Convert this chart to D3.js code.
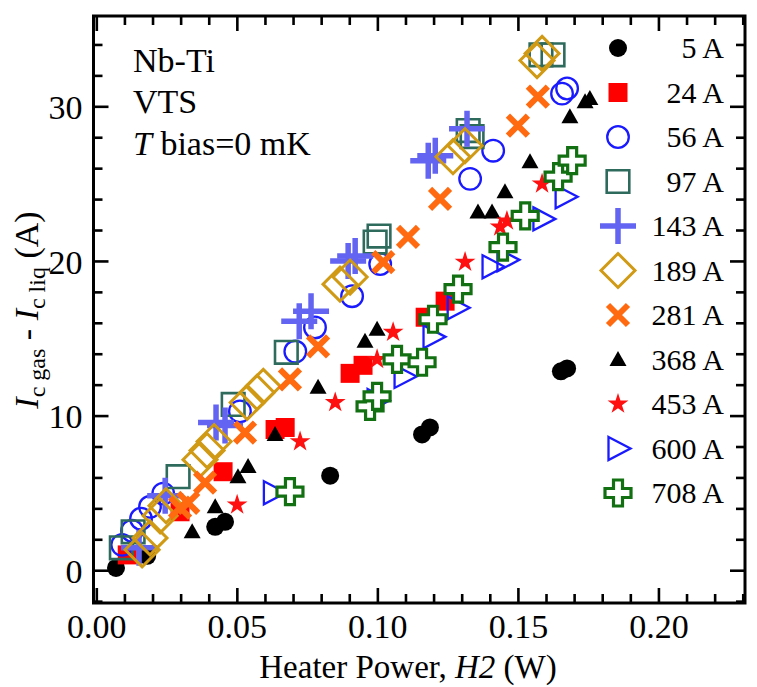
<!DOCTYPE html>
<html>
<head>
<meta charset="utf-8">
<script src="https://cdn.jsdelivr.net/npm/d3@7"></script>
<style>
  html, body { margin: 0; padding: 0; background: #fff; }
  svg { display: block; font-family: "Liberation Serif", "DejaVu Serif", serif; }
</style>
</head>
<body>
<svg id="chart" width="757" height="687"></svg>
<script>
// ---------------- DATA ----------------
const legendLabels = ["5 A","24 A","56 A","97 A","143 A","189 A","281 A","368 A","453 A","600 A","708 A"];

const s5A   = [[0.0070,0.15],[0.0181,0.93],[0.0423,2.81],[0.0458,3.13],[0.0832,6.11],[0.1159,8.78],[0.1187,9.23],[0.1653,12.86],[0.1675,13.05]];
const s24A  = [[0.0110,0.99],[0.0298,3.78],[0.0451,6.37],[0.0636,9.10],[0.0672,9.23],[0.0903,12.73],[0.0949,13.25],[0.1170,16.36],[0.1241,17.40]];
const s56A  = [[0.0092,1.64],[0.0127,2.55],[0.0159,3.33],[0.0191,4.10],[0.0238,4.95],[0.0511,10.27],[0.0708,14.14],[0.0778,15.70],[0.0910,17.72],[0.1010,19.80],[0.1330,25.31],[0.1412,27.13],[0.1657,30.82],[0.1675,31.15]];
const s97A  = [[0.0089,1.45],[0.0131,2.48],[0.0291,6.05],[0.0487,10.72],[0.0676,14.09],[0.0992,21.22],[0.1006,21.61],[0.1323,28.43],[0.1337,28.04],[0.1582,33.33],[0.1625,33.33]];
const s143A = [[0.0152,1.45],[0.0245,4.82],[0.0426,9.55],[0.0458,9.36],[0.0722,16.10],[0.0764,16.75],[0.0896,19.99],[0.0921,20.32],[0.1181,26.48],[0.1206,26.80],[0.1319,28.55]];
const s189A = [[0.0163,1.32],[0.0191,2.09],[0.0227,3.52],[0.0248,4.17],[0.0369,7.15],[0.0394,7.74],[0.0419,8.32],[0.0537,10.85],[0.0572,11.50],[0.0594,11.89],[0.0867,18.50],[0.0903,18.96],[0.1269,26.74],[0.1312,27.45],[0.1568,32.96],[0.1586,33.42]];
const s281A = [[0.0298,4.04],[0.0327,4.36],[0.0387,5.66],[0.0529,8.90],[0.0689,12.34],[0.0789,14.48],[0.1021,19.93],[0.1109,21.55],[0.1223,24.02],[0.1500,28.75],[0.1571,30.63]];
const s368A = [[0.0341,2.48],[0.0423,4.10],[0.0504,6.05],[0.0540,6.70],[0.0636,8.78],[0.0789,11.83],[0.0956,14.80],[0.0999,15.58],[0.1358,23.17],[0.1408,23.17],[0.1454,24.47],[0.1543,26.42],[0.1685,29.33],[0.1739,30.30],[0.1756,30.50]];
const s453A = [[0.0501,4.23],[0.0725,8.32],[0.0850,10.85],[0.0999,13.64],[0.1056,15.39],[0.1284,18.31],[0.1312,19.93],[0.1437,22.20],[0.1461,22.59],[0.1586,24.99]];
const s600A = [[0.0630,5.01],[0.0999,10.98],[0.1095,12.53],[0.1198,15.09],[0.1284,16.97],[0.1408,19.62],[0.1461,20.07],[0.1589,22.72],[0.1668,24.15]];
const s708A = [[0.0689,5.08],[0.0974,10.59],[0.0999,11.24],[0.1070,13.64],[0.1159,13.45],[0.1198,16.23],[0.1287,18.18],[0.1447,20.90],[0.1526,22.92],[0.1643,25.45],[0.1693,26.49]];

const seriesData = [s5A, s24A, s56A, s97A, s143A, s189A, s281A, s368A, s453A, s600A, s708A];

const xTickValues = [0.00, 0.05, 0.10, 0.15, 0.20];
const yTickValues = [0, 10, 20, 30];
const annotations = ["Nb-Ti", "VTS", "bias=0 mK"];

// ---------------- STYLE ----------------
const markerStyles = [
  {shape:"circle",   color:"#000000", fill:true},
  {shape:"square",   color:"#ff0000", fill:true},
  {shape:"ocircle",  color:"#1a1aff", fill:false},
  {shape:"osquare",  color:"#2f6b5c", fill:false},
  {shape:"plus",     color:"#6464f2", fill:false},
  {shape:"diamond",  color:"#d09a14", fill:false},
  {shape:"x",        color:"#ff6a10", fill:false},
  {shape:"triangle", color:"#000000", fill:true},
  {shape:"star",     color:"#ff1010", fill:true},
  {shape:"rtri",     color:"#1a1aff", fill:false},
  {shape:"cross",    color:"#127012", fill:false}
];

const svg = d3.select("#chart");
const L = 93.5, R = 745, T = 16, B = 603;

const x = d3.scaleLinear().domain([-0.001, 0.2308]).range([L, R]);
const y = d3.scaleLinear().domain([-2.12, 35.84]).range([B, T]);

function markerPath(shape) {
  switch (shape) {
    case "circle":  return d3.symbol().type(d3.symbolCircle).size(Math.PI*9*9)();
    case "ocircle": return d3.symbol().type(d3.symbolCircle).size(Math.PI*10.8*10.8)();
    case "square":  return "M-9.5,-9.5H9.5V9.5H-9.5Z";
    case "osquare": return "M-11.3,-11.3H11.3V11.3H-11.3Z";
    case "plus":    return "M-18,0H18M0,-18V18";
    case "diamond": return "M0,-17L17,0L0,17L-17,0Z";
    case "x":       return "M-10,-10L10,10M-10,10L10,-10";
    case "triangle":return "M0,-8.5L8.5,6.5L-8.5,6.5Z";
    case "star":    return d3.symbol().type(d3.symbolStar).size(135)();
    case "rtri":    return "M-9.5,-11.5L12.5,0L-9.5,11.5Z";
    case "cross":   return "M-4.5,-13H4.5V-4.5H13V4.5H4.5V13H-4.5V4.5H-13V-4.5H-4.5Z";
  }
}
function styleMarker(sel, st) {
  const sh = st.shape;
  if (st.fill) {
    sel.attr("fill", st.color).attr("stroke", "none");
  } else {
    let sw = 2.3;
    if (sh === "plus") sw = 5.5;
    if (sh === "x") sw = 6;
    if (sh === "diamond") sw = 3;
    if (sh === "cross") sw = 3.2;
    if (sh === "osquare") sw = 2.6;
    sel.attr("fill", sh === "cross" ? "#ffffff" : "none")
       .attr("stroke", st.color).attr("stroke-width", sw);
  }
}

// ---------------- DATA MARKS ----------------
const plot = svg.append("g");
seriesData.forEach((data, i) => {
  const st = markerStyles[i];
  const g = plot.append("g").attr("class", "series s" + i);
  g.selectAll("path").data(data).join("path")
    .attr("d", markerPath(st.shape))
    .attr("transform", d => `translate(${x(d[0])},${y(d[1])})`)
    .call(styleMarker, st);
});

// ---------------- AXES (ticks inward on all four sides) ----------------
const xMinor = d3.range(0, 0.2305, 0.01).map(v => +v.toFixed(2));
const yMinor = d3.range(-2, 35.1, 2);
const tickW = 2.6, majLen = 15, minLen = 9;

const axesG = svg.append("g");
const isMajorX = v => Math.round(v * 100) % 5 === 0;
const isMajorY = v => v % 10 === 0;

axesG.append("g").attr("transform", `translate(0,${B})`)
  .call(d3.axisBottom(x).tickValues(xMinor).tickSize(0).tickFormat(""))
  .call(g => g.select(".domain").remove())
  .call(g => g.selectAll(".tick line").attr("y2", d => -(isMajorX(d) ? majLen : minLen)).attr("stroke","#000").attr("stroke-width",tickW));
axesG.append("g").attr("transform", `translate(0,${T})`)
  .call(d3.axisTop(x).tickValues(xMinor).tickSize(0).tickFormat(""))
  .call(g => g.select(".domain").remove())
  .call(g => g.selectAll(".tick line").attr("y2", d => (isMajorX(d) ? majLen : minLen)).attr("stroke","#000").attr("stroke-width",tickW));
axesG.append("g").attr("transform", `translate(${L},0)`)
  .call(d3.axisLeft(y).tickValues(yMinor).tickSize(0).tickFormat(""))
  .call(g => g.select(".domain").remove())
  .call(g => g.selectAll(".tick line").attr("x2", d => (isMajorY(d) ? majLen : minLen)).attr("stroke","#000").attr("stroke-width",tickW));
axesG.append("g").attr("transform", `translate(${R},0)`)
  .call(d3.axisRight(y).tickValues(yMinor).tickSize(0).tickFormat(""))
  .call(g => g.select(".domain").remove())
  .call(g => g.selectAll(".tick line").attr("x2", d => -(isMajorY(d) ? majLen : minLen)).attr("stroke","#000").attr("stroke-width",tickW));

// tick labels
axesG.append("g").attr("transform", `translate(0,${B})`)
  .call(d3.axisBottom(x).tickValues(xTickValues).tickSize(0).tickPadding(0).tickFormat(d3.format(".2f")))
  .call(g => g.select(".domain").remove())
  .call(g => g.selectAll(".tick text").attr("y", 35).attr("dy", 0)
      .attr("font-size", 34).attr("font-family", "Liberation Serif").attr("fill", "#000"));
axesG.append("g").attr("transform", `translate(${L},0)`)
  .call(d3.axisLeft(y).tickValues(yTickValues).tickSize(0).tickPadding(0).tickFormat(d3.format("d")))
  .call(g => g.select(".domain").remove())
  .call(g => g.selectAll(".tick text").attr("x", -11).attr("dy", "0.36em")
      .attr("font-size", 34).attr("font-family", "Liberation Serif").attr("fill", "#000"));

// frame
svg.append("rect").attr("x", L).attr("y", T).attr("width", R - L).attr("height", B - T)
  .attr("fill", "none").attr("stroke", "#000").attr("stroke-width", 3);

// ---------------- AXIS TITLES ----------------
const xt = svg.append("text").attr("x", 408).attr("y", 678).attr("text-anchor", "middle")
  .attr("font-size", 33).attr("fill", "#000");
xt.append("tspan").text("Heater Power, ");
xt.append("tspan").attr("font-style", "italic").text("H2");
xt.append("tspan").text(" (W)");

const yt = svg.append("text").attr("transform", "translate(38,310) rotate(-90)")
  .attr("text-anchor", "middle").attr("font-size", 34).attr("fill", "#000");
yt.append("tspan").attr("font-style", "italic").text("I");
yt.append("tspan").attr("font-size", 24).attr("dy", 7).text("c gas");
yt.append("tspan").attr("dy", -7).text(" - ");
yt.append("tspan").attr("font-style", "italic").text("I");
yt.append("tspan").attr("font-size", 24).attr("dy", 7).text("c liq");
yt.append("tspan").attr("dy", -7).text(" (A)");

// ---------------- ANNOTATION ----------------
const ann = svg.append("g").attr("font-size", 34).attr("fill", "#000");
ann.append("text").attr("x", 133).attr("y", 72).text(annotations[0]);
ann.append("text").attr("x", 133).attr("y", 113).text(annotations[1]);
const a3 = ann.append("text").attr("x", 133).attr("y", 155);
a3.append("tspan").attr("font-style", "italic").text("T");
a3.append("tspan").text(" " + annotations[2]);

// ---------------- LEGEND ----------------
const leg = svg.append("g");
legendLabels.forEach((lab, i) => {
  const cy = 48 + i * 44.5;
  const st = markerStyles[i];
  leg.append("path").attr("d", markerPath(st.shape))
    .attr("transform", `translate(618,${cy})`).call(styleMarker, st);
  leg.append("text").attr("x", 724).attr("y", cy).attr("dy", "0.34em")
    .attr("text-anchor", "end").attr("font-size", 30).attr("fill", "#000").text(lab);
});
</script>
</body>
</html>
